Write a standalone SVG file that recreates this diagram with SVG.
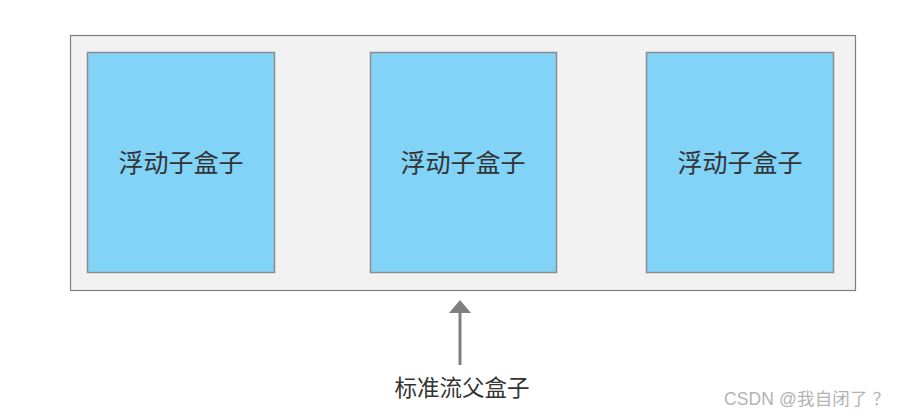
<svg xmlns="http://www.w3.org/2000/svg" width="905" height="418" viewBox="0 0 905 418">
<style>
.box{fill:#81d3f8;stroke:#8c8c8c;stroke-width:1.5}
.t{font-family:"Noto Sans CJK SC","Noto Sans",sans-serif;font-size:25px;fill:#333;text-anchor:middle}
</style>
<defs>
<marker id="ah" markerWidth="14" markerHeight="22" refX="0" refY="11" orient="auto" markerUnits="userSpaceOnUse">
<path d="M0,0 L13,11 L0,22 Z" fill="#7f7f7f"/>
</marker>
</defs>
<rect width="905" height="418" fill="#fff"/>
<g id="parent">
<rect x="70.5" y="35.5" width="785" height="255" fill="#f2f2f2" stroke="#7f7f7f" stroke-width="1.2"/>
</g>
<g id="box1"><rect class="box" x="87.5" y="52.5" width="187" height="220"/><text class="t" x="181" y="172">浮动子盒子</text></g>
<g id="box2"><rect class="box" x="370.5" y="52.5" width="186" height="220"/><text class="t" x="463" y="172">浮动子盒子</text></g>
<g id="box3"><rect class="box" x="646.5" y="52.5" width="187" height="220"/><text class="t" x="740" y="172">浮动子盒子</text></g>
<g id="connectors">
<line x1="460" y1="365" x2="460" y2="313" stroke="#7f7f7f" stroke-width="3" marker-end="url(#ah)"/>
</g>
<g id="label"><text class="t" x="462" y="396" style="font-size:22.5px">标准流父盒子</text></g>
<text x="724" y="405" textLength="166" style="font-family:'Liberation Sans','Noto Sans CJK SC',sans-serif;font-size:17.5px;fill:#b3b3b3">CSDN @我自闭了 ？</text>
</svg>
